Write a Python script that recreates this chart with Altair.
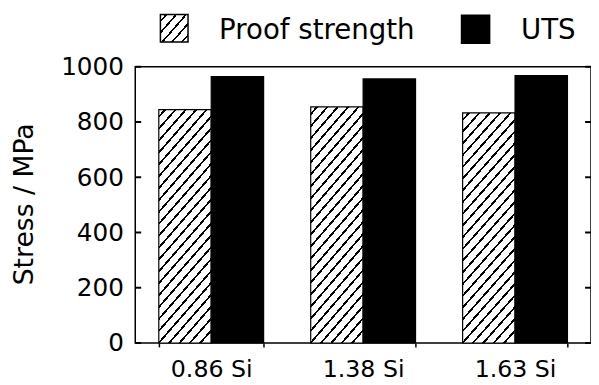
import altair as alt
import pandas as pd

categories = ["0.86 Si", "1.38 Si", "1.63 Si"]
series = ["Proof strength", "UTS"]
proof_strength = [845, 855, 833]
uts = [964, 956, 968]
y_ticks = [0, 200, 400, 600, 800, 1000]

rows = []
for c, p, u in zip(categories, proof_strength, uts):
    rows.append({"cat": c, "series": series[0], "val": p})
    rows.append({"cat": c, "series": series[1], "val": u})
df = pd.DataFrame(rows)
df_ticks = pd.DataFrame({"val": y_ticks})

W, H = 462, 280
FONT = "DejaVu Sans"


def hatch(w, h, slope, spacing, lw):
    r = slope * w / h
    b = (r + 1) / (r * r + 1)
    a = r * b
    scale = w * (1 + 1 / r)
    dt = spacing / scale
    lwt = lw / scale
    stops = [{"offset": 0, "color": "white"}]
    t = dt * 0.5
    while t + lwt < 1:
        t0, t1 = round(t, 5), round(t + lwt, 5)
        stops += [
            {"offset": t0, "color": "white"},
            {"offset": t0, "color": "black"},
            {"offset": t1, "color": "black"},
            {"offset": t1, "color": "white"},
        ]
        t += dt
    stops.append({"offset": 1, "color": "white"})
    return {"gradient": "linear", "x1": 0, "y1": 0, "x2": round(a, 5), "y2": round(b, 5), "stops": stops}


hatch_bar = hatch(53, 237, 1.15, 10.5, 2.4)
hatch_leg = hatch(28, 28, 1.15, 10, 2.2)

x_enc = alt.X(
    "cat:N", sort=categories,
    scale=alt.Scale(paddingInner=0.31, paddingOuter=0.155),
    axis=alt.Axis(title=None, labelFont=FONT, labelFontSize=24, labelColor="black",
                  labelAngle=0, tickBand="extent", tickSize=4, tickColor="black",
                  tickWidth=1.5, domain=False, labelPadding=11),
)
y_enc = alt.Y(
    "val:Q", scale=alt.Scale(domain=[0, 1000], nice=False),
    axis=alt.Axis(values=y_ticks, format="d", title="Stress / MPa", ticks=False, tickSize=0,
                  domain=False, grid=False, labelFont=FONT, labelFontSize=25,
                  labelColor="black", labelPadding=12, titleFont=FONT, titleFontSize=27,
                  titleFontWeight="normal", titleColor="black", titleX=-112, titleY=139,
                  titleAngle=270, titleAlign="center", titleBaseline="middle"),
)

bars = alt.Chart(df).mark_bar(stroke="black", strokeWidth=1.2).encode(
    x=x_enc,
    xOffset=alt.XOffset("series:N", sort=series,
                        scale=alt.Scale(domain=series, paddingInner=0, paddingOuter=0)),
    y=y_enc,
    fill=alt.condition(alt.datum.series == series[0], alt.value(hatch_bar), alt.value("black")),
)

ticks_left = alt.Chart(df_ticks).mark_rule(color="black", strokeWidth=2).encode(
    y="val:Q", x=alt.value(0), x2=alt.value(6))
ticks_right = alt.Chart(df_ticks).mark_rule(color="black", strokeWidth=2).encode(
    y="val:Q", x=alt.value(W - 6), x2=alt.value(W))

leg_df0 = pd.DataFrame({"s": [series[0]]})
leg_df1 = pd.DataFrame({"s": [series[1]]})
leg_sq0 = alt.Chart(leg_df0).mark_square(size=784, fill=hatch_leg, stroke="black",
                                         strokeWidth=1.5, opacity=1).encode(
    x=alt.value(39.5), y=alt.value(-39))
leg_sq1 = alt.Chart(leg_df1).mark_square(size=784, fill="black", stroke="black",
                                         opacity=1).encode(
    x=alt.value(345), y=alt.value(-38))
leg_t0 = alt.Chart(leg_df0).mark_text(font=FONT, fontSize=28, align="left",
                                      baseline="alphabetic", color="black").encode(
    text="s:N", x=alt.value(85), y=alt.value(-28))
leg_t1 = alt.Chart(leg_df1).mark_text(font=FONT, fontSize=28, align="left",
                                      baseline="alphabetic", color="black").encode(
    text="s:N", x=alt.value(391), y=alt.value(-28))

chart = alt.layer(bars, ticks_left, ticks_right, leg_sq0, leg_sq1, leg_t0, leg_t1).properties(
    width=W, height=H,
    autosize=alt.AutoSizeParams(type="none"),
    padding={"left": 129, "top": 57, "right": 0, "bottom": 38},
).configure_view(stroke="black", strokeWidth=1.5)

chart.save("out.html", embed_options={"renderer": "svg", "actions": False})
